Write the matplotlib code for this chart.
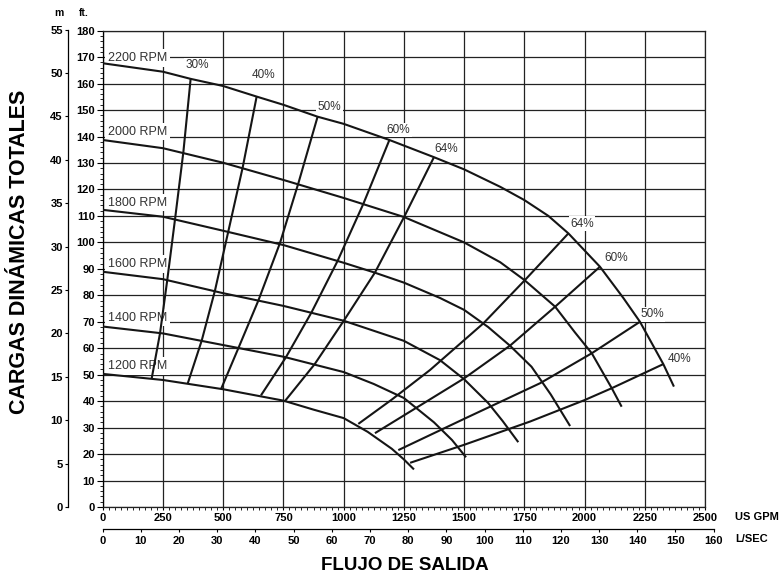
import matplotlib
matplotlib.use('Agg')
import matplotlib.pyplot as plt
from matplotlib.ticker import MultipleLocator

plt.rcParams['font.family'] = ['Liberation Sans', 'DejaVu Sans']

# head curves: flow in US GPM, head in ft
rpm_2200_q = [0, 250, 365, 500, 639, 750, 892, 1000, 1190, 1375, 1500, 1650, 1750, 1850, 1933, 2064, 2161, 2230, 2327, 2371]
rpm_2200_h = [167.7, 164.5, 161.8, 159.1, 155.1, 152.0, 147.5, 144.8, 138.7, 132.2, 127.6, 121.0, 116.0, 110.0, 103.4, 90.8, 79.0, 70.0, 54.0, 45.5]
rpm_2000_q = [0, 250, 500, 750, 1000, 1250, 1500, 1650, 1750, 1878, 1960, 2030, 2113, 2154]
rpm_2000_h = [138.7, 135.6, 130.1, 123.6, 116.8, 109.6, 100.0, 92.5, 85.8, 75.7, 66.0, 58.1, 44.9, 37.9]
rpm_1800_q = [0, 250, 500, 750, 1000, 1125, 1250, 1400, 1500, 1600, 1690, 1780, 1860, 1940]
rpm_1800_h = [112.3, 109.7, 104.4, 99.0, 92.3, 88.7, 84.8, 79.0, 74.5, 68.0, 61.0, 53.0, 42.5, 30.6]
rpm_1600_q = [0, 250, 500, 750, 1000, 1250, 1400, 1500, 1600, 1660, 1725]
rpm_1600_h = [88.9, 86.1, 80.8, 76.0, 70.4, 62.8, 55.5, 48.3, 39.3, 32.5, 24.5]
rpm_1400_q = [0, 250, 500, 750, 1000, 1125, 1250, 1375, 1450, 1508]
rpm_1400_h = [68.2, 65.6, 61.2, 56.8, 51.0, 46.5, 41.2, 32.0, 25.3, 18.8]
rpm_1200_q = [0, 250, 500, 750, 875, 1000, 1100, 1200, 1250, 1292]
rpm_1200_h = [50.3, 48.0, 44.5, 40.2, 36.8, 33.6, 28.4, 22.0, 18.0, 14.2]

rpm_labels = ['2200 RPM', '2000 RPM', '1800 RPM', '1600 RPM', '1400 RPM', '1200 RPM']
rpm_label_h = [169.7, 141.9, 115.0, 91.9, 71.6, 53.3]

# efficiency lines, left group (low flow side)
eff30_q = [365, 335, 300, 268, 238, 203]
eff30_h = [161.8, 134.3, 108.6, 85.8, 65.7, 48.4]
eff40_q = [639, 581, 521, 466, 411, 353]
eff40_h = [155.1, 128.3, 104.0, 81.8, 62.9, 46.7]
eff50_q = [892, 812, 736, 646, 563, 491]
eff50_h = [147.5, 122.3, 99.8, 78.0, 60.0, 44.5]
eff60_q = [1190, 1082, 975, 867, 760, 657]
eff60_h = [138.7, 114.6, 93.0, 73.6, 56.5, 42.2]
eff64_q = [1375, 1251, 1130, 1000, 880, 757]
eff64_h = [132.2, 109.6, 88.6, 70.3, 54.0, 40.1]

# efficiency lines, right group (high flow side)
eff64r_q = [1061, 1200, 1359, 1580, 1753, 1933]
eff64r_h = [31.4, 40.6, 51.8, 69.4, 85.8, 103.4]
eff60r_q = [1130, 1250, 1500, 1691, 1878, 2064]
eff60r_h = [27.9, 34.6, 48.6, 61.0, 75.7, 90.8]
eff50r_q = [1227, 1500, 1816, 2030, 2230]
eff50r_h = [21.5, 33.3, 46.8, 58.1, 70.0]
eff40r_q = [1276, 1500, 1774, 2000, 2113, 2327]
eff40r_h = [16.7, 23.5, 32.3, 40.4, 44.9, 54.0]

pct_labels = ['30%', '40%', '50%', '60%', '64%', '64%', '60%', '50%', '40%']
pct_label_q = [342, 618, 892, 1179, 1375, 1941, 2081, 2231, 2345]
pct_label_h = [167.0, 163.3, 151.1, 142.5, 135.2, 107.0, 94.0, 72.9, 55.8]

W, H = 779, 581
fig = plt.figure(figsize=(W / 100, H / 100), dpi=100)

ax = fig.add_axes([102.7 / W, (H - 507) / H, (705 - 102.7) / W, (507 - 30.7) / H])
ax.set_xlim(0, 2500)
ax.set_ylim(0, 180)
ax.set_xticks(range(0, 2501, 250))
ax.set_yticks(range(0, 181, 10))
ax.xaxis.set_minor_locator(MultipleLocator(25))
ax.yaxis.set_minor_locator(MultipleLocator(2))
ax.grid(True, which='major', color='#222222', lw=0.9, zorder=0)
ax.set_axisbelow(True)
for s in ax.spines.values():
    s.set_linewidth(0.9)
    s.set_color('#222222')
ax.spines['left'].set_color('black')
ax.tick_params(axis='y', which='major', length=4, width=0.8, pad=1.5, labelsize=8)
ax.tick_params(axis='y', which='minor', length=2, width=0.6)
ax.tick_params(axis='x', which='major', length=2.5, width=0.8, pad=2, labelsize=8)
ax.tick_params(axis='x', which='minor', length=1.8, width=0.6)
for lab in ax.get_xticklabels() + ax.get_yticklabels():
    lab.set_fontweight('bold')

curve_kw = dict(color='#151515', lw=1.5, zorder=3, solid_capstyle='butt')
for q, h in [(rpm_2200_q, rpm_2200_h), (rpm_2000_q, rpm_2000_h), (rpm_1800_q, rpm_1800_h),
             (rpm_1600_q, rpm_1600_h), (rpm_1400_q, rpm_1400_h), (rpm_1200_q, rpm_1200_h)]:
    ax.plot(q, h, **curve_kw)
for q, h in [(eff30_q, eff30_h), (eff40_q, eff40_h), (eff50_q, eff50_h), (eff60_q, eff60_h),
             (eff64_q, eff64_h), (eff64r_q, eff64r_h), (eff60r_q, eff60r_h),
             (eff50r_q, eff50r_h), (eff40r_q, eff40r_h)]:
    ax.plot(q, h, **curve_kw)

box = dict(facecolor='white', edgecolor='none', pad=2)
for lab, h in zip(rpm_labels, rpm_label_h):
    ax.text(22, h, lab, fontsize=9, color='#333333', ha='left', va='center', bbox=box, zorder=2)
box2 = dict(facecolor='white', edgecolor='none', pad=1)
for lab, q, h in zip(pct_labels, pct_label_q, pct_label_h):
    ax.text(q, h, lab, fontsize=8.5, color='#333333', ha='left', va='center', bbox=box2, zorder=2)

# metres axis
axm = fig.add_axes([68.3 / W, (H - 507) / H, 0.0005, (507 - 29.6) / H])
axm.set_ylim(0, 55)
axm.set_yticks(range(0, 56, 5))
axm.patch.set_visible(False)
for k in ['top', 'right', 'bottom']:
    axm.spines[k].set_visible(False)
axm.spines['left'].set_linewidth(0.9)
axm.xaxis.set_visible(False)
axm.tick_params(axis='y', length=2.5, width=0.8, pad=1.5, labelsize=8)
for lab in axm.get_yticklabels():
    lab.set_fontweight('bold')

# litres per second axis
lps_max = 160
axl = fig.add_axes([102.7 / W, (H - 529.3) / H, lps_max * 15.8503 * (705 - 102.7) / 2500 / W, 0.0005])
axl.set_xlim(0, lps_max)
axl.set_xticks(range(0, lps_max + 1, 10))
axl.patch.set_visible(False)
for k in ['top', 'right', 'left']:
    axl.spines[k].set_visible(False)
axl.spines['bottom'].set_linewidth(0.9)
axl.yaxis.set_visible(False)
axl.tick_params(axis='x', length=2.5, width=0.8, pad=2, labelsize=8)
for lab in axl.get_xticklabels():
    lab.set_fontweight('bold')

fig.text(59 / W, 1 - 13 / H, 'm', fontsize=7.5, fontweight='bold', ha='center', va='center')
fig.text(84 / W, 1 - 13 / H, 'ft.', fontsize=7.5, fontweight='bold', ha='center', va='center')
fig.text(735 / W, 1 - 517 / H, 'US GPM', fontsize=8, fontweight='bold', ha='left', va='center')
fig.text(735 / W, 1 - 539.5 / H, 'L/SEC', fontsize=8, fontweight='bold', ha='left', va='center')
fig.text(20 / W, 1 - 252 / H, 'CARGAS DINÁMICAS TOTALES', fontsize=15.5, fontweight='bold',
         rotation=90, ha='center', va='center')
fig.text(405 / W, 1 - 565 / H, 'FLUJO DE SALIDA', fontsize=13.5, fontweight='bold',
         ha='center', va='center')

fig.savefig('out.png', dpi=100)
